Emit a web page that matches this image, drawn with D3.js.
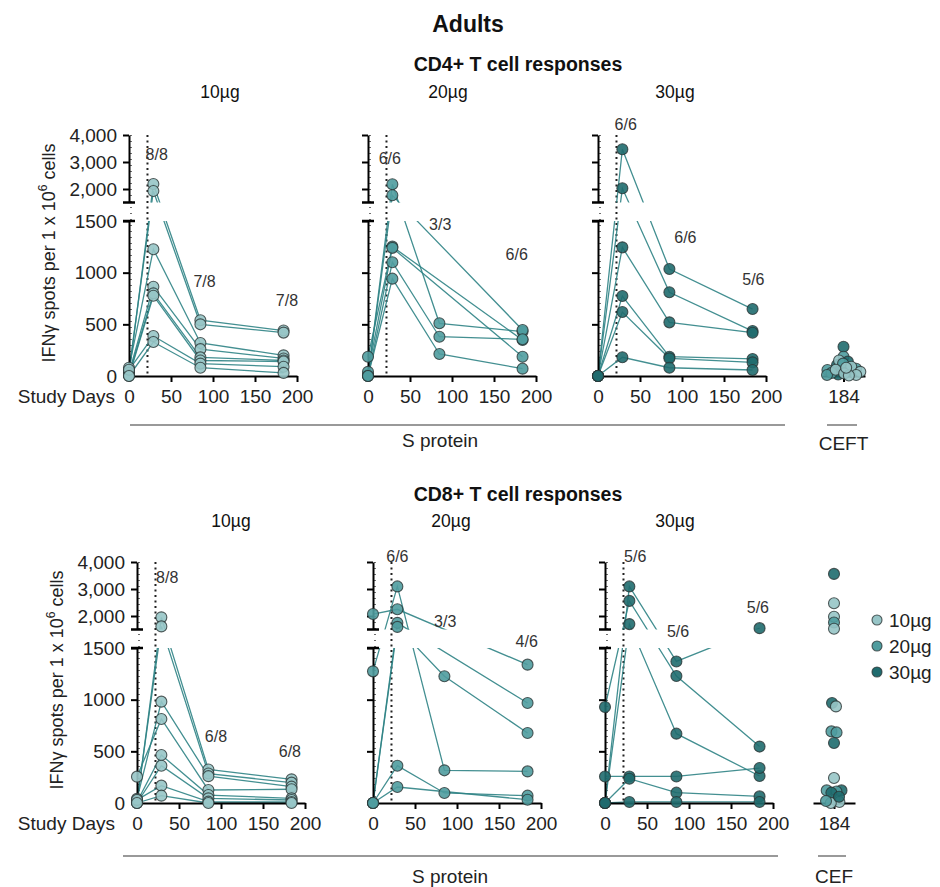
<!DOCTYPE html>
<html>
<head>
<meta charset="utf-8">
<script src="https://cdn.jsdelivr.net/npm/d3@7"></script>
<style>
body { margin: 0; background: #fff; }
svg { font-family: "Liberation Sans", Arial, sans-serif; }
</style>
</head>
<body>
<div id="chart"></div>
<script>
// Study days where samples were taken
var days = [0, 29, 85, 184];
var doseNames = ['10µg', '20µg', '30µg'];

// One row per participant: IFNg spots at day 0, 29, 85, 184 (null = not measured)
var cd4Dose10 = [
    [20, 2185, 540, 440],
    [50, 1926, 500, 420],
    [80, 1226, 320, 200],
    [30, 864, 260, 170],
    [10, 800, 180, 150],
    [0, 777, 150, 140],
    [60, 387, 120, 90],
    [0, 329, 80, 30]
];
var cd4Dose20 = [
    [0, 2174, 510, 430],
    [10, 1767, null, 445],
    [187, 1252, null, 348],
    [40, 1240, null, 187],
    [0, 1101, 380, 355],
    [0, 942, 213, 71]
];
var cd4Dose30 = [
    [0, 3470, 1035, 648],
    [0, 2026, 810, 435],
    [0, 1245, 519, 419],
    [0, 774, 187, 165],
    [0, 619, 171, 132],
    [0, 181, 80, 58]
];
var cd8Dose10 = [
    [0, 1950, 324, 229],
    [20, 1615, 285, 197],
    [40, 981, 260, 158],
    [255, 813, 126, 133],
    [10, 465, 77, 45],
    [0, 361, 45, 29],
    [30, 168, 13, 10],
    [0, 71, 0, 0]
];
var cd8Dose20 = [
    [2073, 2249, null, 1339],
    [1274, 3096, 316, 306],
    [0, 1747, null, 968],
    [0, 1597, 1226, 678],
    [0, 361, 97, 71],
    [0, 155, null, 32]
];
var cd8Dose30 = [
    [0, 3096, 1370, 1550],
    [929, 2560, 1229, 546],
    [0, 1700, 671, 261],
    [257, 257, 257, 338],
    [0, 235, 100, 64],
    [0, 10, 10, 10]
];

// Control peptide pools at day 184 (dose index: 0 = 10µg, 1 = 20µg, 2 = 30µg)
var cd4CefValues = [283, 187, 139, 106, 58, 40, 15, 150, 120, 58, 30, 10, 70, 90, 60, 40, 25, 10, 5, 80];
var cd4CefDose = [2, 1, 2, 2, 2, 2, 2, 0, 1, 1, 1, 1, 1, 0, 0, 0, 0, 0, 0, 0];
var cd8CefValues = [3560, 2474, 1972, 1760, 1530, 968, 935, 693, 683, 580, 242, 122, 122, 112, 32, 100, 10, 0, 20, 60];
var cd8CefDose = [2, 0, 0, 1, 0, 2, 0, 1, 1, 2, 0, 2, 1, 1, 0, 2, 0, 0, 1, 2];

// Responder counts shown above day 29, 85, 184
var cd4Ratios = [['8/8', '7/8', '7/8'], ['6/6', '3/3', '6/6'], ['6/6', '6/6', '5/6']];
var cd8Ratios = [['8/8', '6/8', '6/8'], ['6/6', '3/3', '4/6'], ['5/6', '5/6', '5/6']];

var lowerTicks = [0, 500, 1000, 1500];
var upperTicks = [2000, 3000, 4000];
var dayTicks = [0, 50, 100, 150, 200];

// Layout
var width = 940;
var height = 887;
var doseColors = ['#97c5c7', '#4f9c9e', '#1f6b6e'];
var lineColor = '#2f8385';
var secondDoseDay = 22;
var panelWidth = 168;

var rows = [
    {
        title: 'CD4+ T cell responses', titleY: 71, doseTitleY: 98,
        doseTitleX: [220, 448, 675],
        zero: 376, panelX: [129, 368, 598],
        subjects: [cd4Dose10, cd4Dose20, cd4Dose30], ratios: cd4Ratios,
        ratioPos: [[[33, 2149], [90, 920], [188, 736]], [[26, 2110], [86, 1471], [177, 1181]], [[33, 2439], [104, 1346], [185, 939]]],
        cefRange: [822, 865], cefValues: cd4CefValues, cefDose: cd4CefDose, cefName: 'CEFT', cefLine: [827, 857],
        groupLine: [130, 785], groupLineY: 425, groupTextX: 440, groupTextY: 447, cefTextY: 450
    },
    {
        title: 'CD8+ T cell responses', titleY: 501, doseTitleY: 527,
        doseTitleX: [231, 451, 675],
        zero: 803, panelX: [137, 373, 605],
        subjects: [cd8Dose10, cd8Dose20, cd8Dose30], ratios: cd8Ratios,
        ratioPos: [[[36, 2187], [94, 648], [182, 503]], [[29, 2390], [86, 1761], [183, 1568]], [[36, 2390], [87, 1665], [182, 1897]]],
        cefRange: [813, 855], cefValues: cd8CefValues, cefDose: cd8CefDose, cefName: 'CEF', cefLine: [818, 846],
        groupLine: [123, 778], groupLineY: 856, groupTextX: 450, groupTextY: 883, cefTextY: 883
    }
];

function makeYScales(zero) {
    var low = d3.scaleLinear().domain([0, 1500]).range([zero, zero - 155]);
    var high = d3.scaleLinear().domain([1500, 4000]).range([zero - 173.5, zero - 241]);
    return {
        low: low,
        high: high,
        pos: function (v) { return v <= 1500 ? low(v) : high(v); }
    };
}

function styleAxis(axisG) {
    axisG.attr('font-size', 19).attr('font-family', null);
    axisG.select('.domain').attr('stroke', '#000').attr('stroke-width', 2);
    axisG.selectAll('.tick line').attr('stroke', '#000').attr('stroke-width', 2);
    axisG.selectAll('.tick text').attr('fill', '#222');
}

function addCap(g, x0, y) {
    g.append('line')
        .attr('x1', x0 - 6).attr('x2', x0 + 6)
        .attr('y1', y).attr('y2', y)
        .attr('stroke', '#000').attr('stroke-width', 2.5);
}

function addDottedLine(g, x, y1, y2, dash, w) {
    g.append('line')
        .attr('x1', x).attr('x2', x)
        .attr('y1', y1).attr('y2', y2)
        .attr('stroke', '#222')
        .attr('stroke-width', w)
        .attr('stroke-dasharray', dash);
}

function drawPanel(g, row, rowIndex, p) {
    var x0 = row.panelX[p];
    var x = d3.scaleLinear().domain([0, 200]).range([x0, x0 + panelWidth]);
    var y = makeYScales(row.zero);
    var subjects = row.subjects[p];
    var top = y.high(4000);

    // reference lines: day 0 and the second dose
    addDottedLine(g, x0 + 2, top, row.zero, '1,5', 1.3);
    addDottedLine(g, x(secondDoseDay), top, row.zero, '2,3.5', 2);

    // participant lines, hidden in the axis gap
    var line = d3.line().x(function (d) { return x(d[0]); }).y(function (d) { return y.pos(d[1]); });
    g.append('g')
        .attr('clip-path', 'url(#gapClip' + rowIndex + ')')
        .selectAll('path')
        .data(subjects)
        .enter()
        .append('path')
        .attr('d', function (s) {
            var pts = days.map(function (d, i) { return [d, s[i]]; })
                .filter(function (d) { return d[1] !== null; });
            return line(pts);
        })
        .attr('fill', 'none')
        .attr('stroke', lineColor)
        .attr('stroke-width', 1.3)
        .attr('stroke-opacity', 0.9);

    // axes
    var showLabels = p === 0;
    var lowAxis = d3.axisLeft(y.low).tickValues(lowerTicks).tickSize(6).tickPadding(6).tickSizeOuter(0)
        .tickFormat(d3.format('d'));
    var highAxis = d3.axisLeft(y.high).tickValues(upperTicks).tickSize(6).tickPadding(6).tickSizeOuter(0)
        .tickFormat(d3.format(','));
    if (!showLabels) {
        lowAxis.tickFormat('');
        highAxis.tickFormat('');
    }
    var lowG = g.append('g').attr('transform', 'translate(' + x0 + ',0)').call(lowAxis);
    var highG = g.append('g').attr('transform', 'translate(' + x0 + ',0)').call(highAxis);
    styleAxis(lowG);
    styleAxis(highG);
    addCap(g, x0, y.low(1500));
    addCap(g, x0, y.high(1500));

    var xAxis = d3.axisBottom(x).tickValues(dayTicks).tickSize(6).tickPadding(8).tickSizeOuter(0);
    var xG = g.append('g').attr('transform', 'translate(0,' + row.zero + ')').call(xAxis);
    styleAxis(xG);

    // points
    var pts = [];
    subjects.forEach(function (s) {
        s.forEach(function (v, i) {
            if (v !== null) {
                pts.push([days[i], v]);
            }
        });
    });
    g.append('g').selectAll('circle')
        .data(pts)
        .enter()
        .append('circle')
        .attr('cx', function (d) { return x(d[0]); })
        .attr('cy', function (d) { return y.pos(d[1]); })
        .attr('r', 5.5)
        .attr('fill', doseColors[p])
        .attr('fill-opacity', 0.9)
        .attr('stroke', '#2a3434')
        .attr('stroke-opacity', 0.8)
        .attr('stroke-width', 1.1);

    // responder counts
    g.append('g').selectAll('text')
        .data(row.ratios[p])
        .enter()
        .append('text')
        .attr('x', function (d, i) { return x(row.ratioPos[p][i][0]); })
        .attr('y', function (d, i) { return y.low(row.ratioPos[p][i][1]); })
        .attr('dy', '0.35em')
        .attr('text-anchor', 'middle')
        .attr('font-size', 16)
        .attr('fill', '#333')
        .text(function (d) { return d; });

    // dose title
    g.append('text')
        .attr('x', row.doseTitleX[p])
        .attr('y', row.doseTitleY)
        .attr('text-anchor', 'middle')
        .attr('font-size', 17.5)
        .attr('fill', '#111')
        .text(doseNames[p]);
}

function drawControl(g, row) {
    var y = makeYScales(row.zero);
    var xc = d3.scalePoint().domain(['184']).range(row.cefRange).padding(0.5);
    var cx = xc('184');

    var nodes = row.cefValues.map(function (v, i) {
        return {x: cx, fy: y.pos(v), dose: row.cefDose[i]};
    });
    var sim = d3.forceSimulation(nodes)
        .force('x', d3.forceX(cx).strength(0.15))
        .force('collide', d3.forceCollide(2.6))
        .stop();
    for (var i = 0; i < 200; i++) {
        sim.tick();
    }

    var axisG = g.append('g').attr('transform', 'translate(0,' + row.zero + ')')
        .call(d3.axisBottom(xc).tickSize(6).tickPadding(8).tickSizeOuter(0));
    styleAxis(axisG);

    g.append('g').selectAll('circle')
        .data(nodes)
        .enter()
        .append('circle')
        .attr('cx', function (d) { return d.x; })
        .attr('cy', function (d) { return d.y; })
        .attr('r', 5.5)
        .attr('fill', function (d) { return doseColors[d.dose]; })
        .attr('fill-opacity', 0.9)
        .attr('stroke', '#2a3434')
        .attr('stroke-opacity', 0.8)
        .attr('stroke-width', 1.1);

    g.append('line')
        .attr('x1', row.cefLine[0]).attr('x2', row.cefLine[1])
        .attr('y1', row.groupLineY).attr('y2', row.groupLineY)
        .attr('stroke', '#777').attr('stroke-width', 1.5);
    g.append('text')
        .attr('x', cx).attr('y', row.cefTextY)
        .attr('text-anchor', 'middle')
        .attr('font-size', 19)
        .attr('fill', '#222')
        .text(row.cefName);
}

function drawRow(svg, row, rowIndex) {
    var g = svg.append('g');
    var y = makeYScales(row.zero);

    // clip for participant lines: upper and lower axis segments only
    var clip = svg.append('defs').append('clipPath').attr('id', 'gapClip' + rowIndex);
    clip.append('rect')
        .attr('x', 0).attr('width', width)
        .attr('y', y.high(4000) - 30)
        .attr('height', y.high(1500) - y.high(4000) + 30);
    clip.append('rect')
        .attr('x', 0).attr('width', width)
        .attr('y', y.low(1500))
        .attr('height', y.low(0) - y.low(1500) + 20);

    g.append('text')
        .attr('x', 518).attr('y', row.titleY)
        .attr('text-anchor', 'middle')
        .attr('font-size', 19.5)
        .attr('font-weight', 'bold')
        .attr('fill', '#111')
        .text(row.title);

    for (var p = 0; p < 3; p++) {
        drawPanel(g, row, rowIndex, p);
    }
    drawControl(g, row);

    // y label
    var x0 = row.panelX[0];
    var label = g.append('text')
        .attr('transform', 'translate(' + (x0 - 74) + ',' + (row.zero - 123) + ') rotate(-90)')
        .attr('text-anchor', 'middle')
        .attr('font-size', 18)
        .attr('fill', '#222');
    label.append('tspan').text('IFNγ spots per 1 x 10');
    label.append('tspan').attr('font-size', 12).attr('dy', -8).text('6');
    label.append('tspan').attr('dy', 8).text(' cells');

    g.append('text')
        .attr('x', 115).attr('y', row.zero + 27)
        .attr('text-anchor', 'end')
        .attr('font-size', 19)
        .attr('fill', '#222')
        .text('Study Days');

    g.append('line')
        .attr('x1', row.groupLine[0]).attr('x2', row.groupLine[1])
        .attr('y1', row.groupLineY).attr('y2', row.groupLineY)
        .attr('stroke', '#777').attr('stroke-width', 1.5);
    g.append('text')
        .attr('x', row.groupTextX).attr('y', row.groupTextY)
        .attr('text-anchor', 'middle')
        .attr('font-size', 19)
        .attr('fill', '#222')
        .text('S protein');
}

function drawLegend(svg) {
    var legend = svg.append('g').selectAll('g')
        .data(doseNames)
        .enter()
        .append('g')
        .attr('transform', function (d, i) { return 'translate(877,' + (620 + i * 26) + ')'; });
    legend.append('circle')
        .attr('r', 5)
        .attr('fill', function (d, i) { return doseColors[i]; })
        .attr('stroke', '#2a3434')
        .attr('stroke-opacity', 0.8)
        .attr('stroke-width', 1.1);
    legend.append('text')
        .attr('x', 12)
        .attr('dy', '0.35em')
        .attr('font-size', 19)
        .attr('fill', '#222')
        .text(function (d) { return d; });
}

var svg = d3.select('#chart').append('svg')
    .attr('width', width)
    .attr('height', height);

svg.append('text')
    .attr('x', 468).attr('y', 32)
    .attr('text-anchor', 'middle')
    .attr('font-size', 23)
    .attr('font-weight', 'bold')
    .attr('fill', '#111')
    .text('Adults');

rows.forEach(function (row, i) {
    drawRow(svg, row, i);
});
drawLegend(svg);
</script>
</body>
</html>
